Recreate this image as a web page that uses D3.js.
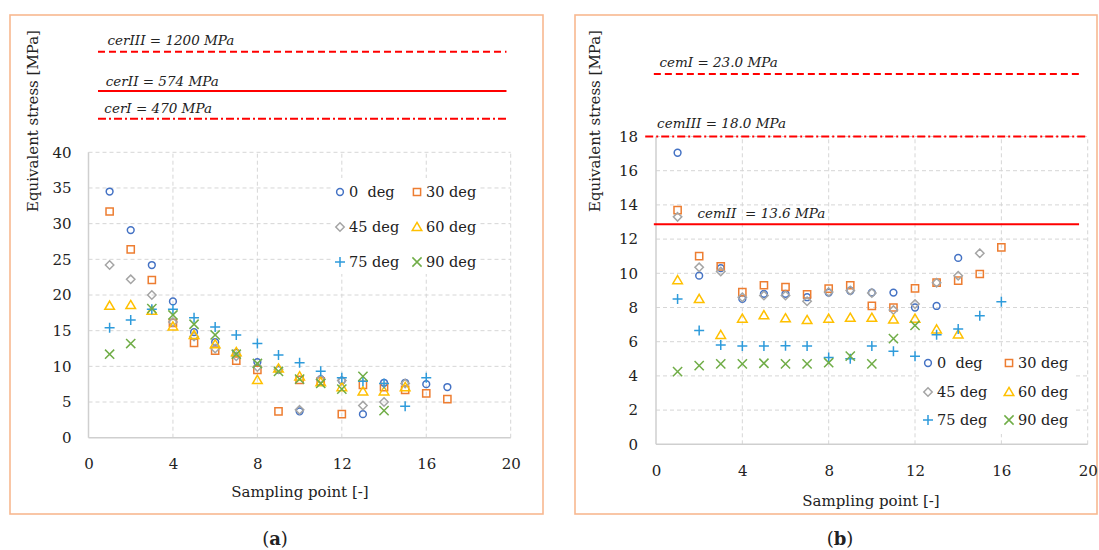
<!DOCTYPE html>
<html>
<head>
<meta charset="utf-8">
<script src="https://cdn.jsdelivr.net/npm/d3@7"></script>
<style>
  body { margin: 0; background: #fff; }
  svg { display: block; }
  text { font-family: "DejaVu Serif", serif; fill: #222; }
</style>
</head>
<body>
<div id="chart"></div>
<script>
// sampling points 1..n, values in MPa
const seriesNames = ["0  deg", "30 deg", "45 deg", "60 deg", "75 deg", "90 deg"];

// panel (a)
const a0  = [34.5, 29.1, 24.2, 19.1, 14.8, 13.4, 11.9, 10.6, 9.5, 3.7, 8.2, 8.0, 3.3, 7.7, 7.7, 7.5, 7.1];
const a30 = [31.7, 26.4, 22.1, 16.1, 13.3, 12.2, 10.8, 9.5, 3.7, 8.1, 7.9, 3.3, 7.4, 7.1, 6.7, 6.2, 5.4];
const a45 = [24.2, 22.2, 20.0, 16.2, 14.2, 12.5, 11.4, 9.9, 9.6, 3.9, 8.2, 8.0, 4.5, 5.0, 7.6];
const a60 = [18.5, 18.6, 17.8, 15.6, 14.4, 13.1, 12.0, 8.1, 9.7, 8.6, 7.8, 7.1, 6.5, 6.5, 7.1];
const a75 = [15.4, 16.5, 18.0, 18.0, 16.8, 15.5, 14.4, 13.2, 11.6, 10.5, 9.3, 8.4, 7.9, 7.6, 4.4, 8.4];
const a90 = [11.7, 13.2, 18.1, 17.2, 15.9, 14.4, 11.7, 10.4, 9.3, 8.2, 7.6, 6.8, 8.6, 3.8];

// panel (b)
const b0  = [17.05, 9.86, 10.3, 8.5, 8.8, 8.8, 8.6, 8.87, 8.98, 8.87, 8.87, 8.0, 8.09, 10.9];
const b30 = [13.7, 11.0, 10.4, 8.9, 9.3, 9.2, 8.77, 9.1, 9.3, 8.09, 8.0, 9.12, 9.45, 9.57, 9.96, 11.52];
const b45 = [13.3, 10.35, 10.1, 8.6, 8.7, 8.7, 8.36, 8.9, 9.0, 8.85, 7.85, 8.2, 9.45, 9.86, 11.17];
const b60 = [9.6, 8.5, 6.4, 7.35, 7.55, 7.37, 7.27, 7.35, 7.4, 7.4, 7.3, 7.35, 6.72, 6.43];
const b75 = [8.5, 6.65, 5.8, 5.75, 5.75, 5.76, 5.75, 5.07, 5.0, 5.75, 5.44, 5.15, 6.41, 6.74, 7.52, 8.34];
const b90 = [4.25, 4.6, 4.7, 4.7, 4.74, 4.7, 4.7, 4.77, 5.16, 4.7, 6.18, 6.95];

// limit lines: label and the height (in axis units) at which each is drawn
const limitsA = [
  { label: "cerIII = 1200 MPa", at: 54.1, kind: "dash" },
  { label: "cerII = 574 MPa",   at: 48.6, kind: "solid" },
  { label: "cerI = 470 MPa",    at: 44.7, kind: "dashdot" }
];
const limitsB = [
  { label: "cemI = 23.0 MPa",    at: 21.65, kind: "dash" },
  { label: "cemIII = 18.0 MPa",  at: 18.0,  kind: "dashdot" },
  { label: "cemII  = 13.6 MPa",  at: 12.87, kind: "solid" }
];

const yTicksA = d3.range(0, 41, 5);
const yTicksB = d3.range(0, 19, 2);
const xTicks = [0, 4, 8, 12, 16, 20];

const colors = ["#4472C4", "#ED7D31", "#A5A5A5", "#FFC000", "#2E9BDB", "#70AD47"];
const symbols = ["circle", "square", "diamond", "triangle", "plus", "cross"];
const dashes = { dash: "7,4", solid: null, dashdot: "8,3,2,3" };

const W = 1099, H = 550;
const svg = d3.select("#chart").append("svg").attr("width", W).attr("height", H);

function marker(g, type, color) {
  const p = g.append("path").attr("fill", "none").attr("stroke", color).attr("stroke-width", 1.5);
  if (type === "circle") p.attr("d", d3.symbol(d3.symbolCircle, 36)());
  else if (type === "square") p.attr("d", "M-3.6,-3.6H3.6V3.6H-3.6Z");
  else if (type === "diamond") p.attr("d", "M0,-4.2L4.2,0L0,4.2L-4.2,0Z");
  else if (type === "triangle") p.attr("d", "M0,-4.6L4.8,3.6H-4.8Z");
  else if (type === "plus") p.attr("d", "M-5,0H5M0,-5V5");
  else if (type === "cross") p.attr("d", "M-4.6,-4.6L4.6,4.6M4.6,-4.6L-4.6,4.6");
}

function drawPanel(cfg) {
  const g = svg.append("g");

  g.append("rect")
    .attr("x", cfg.box[0]).attr("y", cfg.box[1])
    .attr("width", cfg.box[2] - cfg.box[0]).attr("height", cfg.box[3] - cfg.box[1])
    .attr("fill", "#fff").attr("stroke", "#F8B890").attr("stroke-width", 1.6);

  const x = d3.scaleLinear().domain([0, 20]).range(cfg.xRange);
  const y = d3.scaleLinear().domain([0, cfg.yMax]).range(cfg.yRange);

  // dashed grid
  const grid = g.append("g").attr("stroke", "#d6d6d6").attr("stroke-dasharray", "4,3").attr("stroke-width", 1);
  cfg.yTicks.filter(v => v > 0).forEach(v => {
    grid.append("line").attr("x1", x(0)).attr("x2", x(20)).attr("y1", y(v)).attr("y2", y(v));
  });
  xTicks.filter(v => v > 0).forEach(v => {
    grid.append("line").attr("x1", x(v)).attr("x2", x(v)).attr("y1", y(0)).attr("y2", y(cfg.yMax));
  });

  // axis lines
  g.append("line").attr("x1", x(0)).attr("x2", x(0)).attr("y1", y(0)).attr("y2", y(cfg.yMax))
    .attr("stroke", "#cfcfcf").attr("stroke-width", 1.5);
  g.append("line").attr("x1", x(0)).attr("x2", x(20)).attr("y1", y(0)).attr("y2", y(0))
    .attr("stroke", "#cfcfcf").attr("stroke-width", 1.5);

  const yAxis = g.append("g").attr("transform", `translate(${x(0)},0)`)
    .call(d3.axisLeft(y).tickValues(cfg.yTicks).tickSize(0).tickPadding(cfg.yPad));
  yAxis.select(".domain").remove();
  yAxis.selectAll("text").attr("font-size", 15).attr("font-family", "DejaVu Serif").attr("fill", "#222");

  const xAxis = g.append("g").attr("transform", `translate(0,${y(0)})`)
    .call(d3.axisBottom(x).tickValues(xTicks).tickSize(0).tickPadding(21));
  xAxis.select(".domain").remove();
  xAxis.selectAll("text").attr("font-size", 15).attr("font-family", "DejaVu Serif").attr("fill", "#222");

  // titles
  g.append("text")
    .attr("transform", `translate(${cfg.yTitle[0]},${cfg.yTitle[1]}) rotate(-90)`)
    .attr("text-anchor", "middle").attr("dominant-baseline", "central")
    .attr("font-size", 15).text("Equivalent stress [MPa]");
  g.append("text")
    .attr("x", cfg.xTitle[0]).attr("y", cfg.xTitle[1])
    .attr("text-anchor", "middle").attr("dominant-baseline", "central")
    .attr("font-size", 15).text("Sampling point [-]");
  const cap = g.append("text")
    .attr("x", cfg.caption[0]).attr("y", cfg.caption[1])
    .attr("text-anchor", "middle").attr("dominant-baseline", "central")
    .attr("font-size", 18);
  cap.append("tspan").text("(");
  cap.append("tspan").attr("font-weight", "bold").text(cfg.letter);
  cap.append("tspan").text(")");

  // limit lines
  cfg.limits.forEach((l, i) => {
    const ext = cfg.limitExt[i];
    g.append("line")
      .attr("x1", x(ext[0])).attr("x2", x(ext[1]))
      .attr("y1", y(l.at)).attr("y2", y(l.at))
      .attr("stroke", "#FF0000").attr("stroke-width", 2)
      .attr("stroke-dasharray", dashes[l.kind]);
    g.append("text")
      .attr("x", x(cfg.limitLabel[i][0])).attr("y", y(l.at) - cfg.limitLabel[i][1])
      .attr("font-size", 13.5).attr("font-style", "italic")
      .style("white-space", "pre")
      .text(l.label);
  });

  // points
  cfg.series.forEach((vals, si) => {
    vals.forEach((v, i) => {
      const mg = g.append("g").attr("transform", `translate(${x(i + 1)},${y(v)})`);
      marker(mg, symbols[si], colors[si]);
    });
  });

  // legend (white box hides marks underneath, as in the original)
  const lg = cfg.legend;
  g.append("rect").attr("x", lg.box[0]).attr("y", lg.box[1])
    .attr("width", lg.box[2]).attr("height", lg.box[3]).attr("fill", "#fff");
  seriesNames.forEach((name, si) => {
    const col = si % 2, row = Math.floor(si / 2);
    const mx = lg.x[col], my = lg.y[row];
    const mg = g.append("g").attr("transform", `translate(${mx},${my})`);
    marker(mg, symbols[si], colors[si]);
    g.append("text").attr("x", mx + lg.gap).attr("y", my)
      .attr("dominant-baseline", "central").attr("font-size", 14.5)
      .style("white-space", "pre").text(name);
  });
}

drawPanel({
  letter: "a",
  box: [10, 15, 543, 514],
  xRange: [88.5, 510.7], yRange: [437.7, 152.3], yMax: 40, yTicks: yTicksA, yPad: 17,
  yTitle: [33, 121], xTitle: [300, 492], caption: [275, 538],
  series: [a0, a30, a45, a60, a75, a90],
  limits: limitsA,
  limitExt: [[0.45, 19.8], [0.45, 19.8], [0.45, 19.8]],
  limitLabel: [[0.9, 7], [0.82, 5], [0.75, 6]],
  legend: { box: [333, 178, 146, 96], x: [340, 417], y: [192, 227, 262], gap: 9 }
});

drawPanel({
  letter: "b",
  box: [575, 15, 1097, 514],
  xRange: [656, 1087.7], yRange: [444.3, 136.5], yMax: 18, yTicks: yTicksB, yPad: 18,
  yTitle: [595, 121], xTitle: [871, 501], caption: [840, 538],
  series: [b0, b30, b45, b60, b75, b90],
  limits: limitsB,
  limitExt: [[-0.1, 19.6], [-0.5, 19.9], [-0.1, 19.6]],
  limitLabel: [[0.16, 7.5], [0.05, 8.5], [1.92, 6.5]],
  legend: { box: [920, 352, 156, 82], x: [928, 1009], y: [363, 392, 420], gap: 9 }
});
</script>
</body>
</html>
